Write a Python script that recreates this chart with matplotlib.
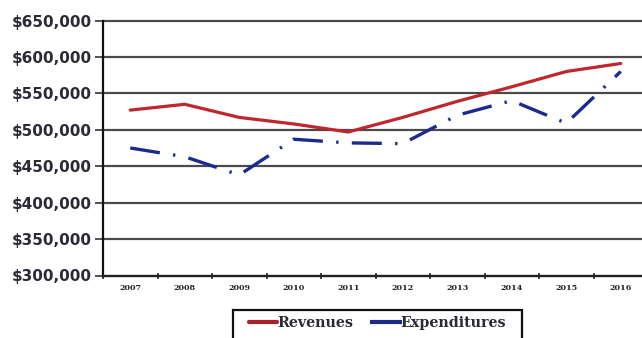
import matplotlib
matplotlib.use("Agg")
import matplotlib.pyplot as plt
from matplotlib.ticker import FuncFormatter, FixedLocator
from matplotlib.patches import Rectangle
import numpy as np

years = ["2007", "2008", "2009", "2010", "2011", "2012", "2013", "2014", "2015", "2016"]
revenues = [527000, 535000, 517000, 508000, 497000, 517000, 539000, 559000, 580000, 591000]
expenditures = [475000, 463000, 438000, 487000, 482000, 481000, 520000, 540000, 509000, 580000]

W, H = 642, 338
fig = plt.figure(figsize=(W / 100, H / 100), dpi=100)
fig.patch.set_facecolor("white")
ax = fig.add_axes([103 / W, (H - 275.5) / H, 545 / W, 255 / H])

x = np.arange(len(years))

# horizontal grid at every 50,000
for v in range(300000, 650001, 50000):
    ax.axhline(v, color="#4a4a4a", lw=1.6, zorder=1, clip_on=False)

ax.plot(x, revenues, color="#c0262d", lw=2.3, solid_capstyle="round",
        label="Revenues", zorder=3)
ax.plot(x, expenditures, color="#1c2a8e", lw=2.4, dashes=(9, 4, 0.7, 4),
        label="Expenditures", zorder=3)

ax.set_xlim(-0.5, len(years) - 0.5)
ax.set_ylim(300000, 650000)

ax.set_yticks(range(300000, 650001, 50000))
ax.yaxis.set_major_formatter(FuncFormatter(lambda v, p: "\\$" + f"{int(v):,}"))
ax.tick_params(axis="y", length=6, width=1.2, color="#333333", pad=2)
for lab in ax.get_yticklabels():
    lab.set_fontfamily("DejaVu Sans")
    lab.set_fontweight("bold")
    lab.set_fontsize(11)
    lab.set_color("#2b2b35")

ax.set_xticks(x)
ax.set_xticklabels(years, family="DejaVu Serif", fontweight="bold",
                   fontsize=5.8, color="#222222")
ax.xaxis.set_minor_locator(FixedLocator(np.arange(-0.5, len(years), 1.0)))
ax.tick_params(axis="x", which="major", length=0, pad=6)
ax.tick_params(axis="x", which="minor", length=4, width=1.2,
               direction="inout", color="#222222")

for side in ("top", "right"):
    ax.spines[side].set_visible(False)
ax.spines["left"].set_color("#111111")
ax.spines["left"].set_linewidth(1.6)
ax.spines["bottom"].set_color("#222222")
ax.spines["bottom"].set_linewidth(1.6)

# legend box runs past the lower edge of the figure
fig.patches.append(Rectangle((233 / W, -20 / H), 289 / W, (H - 310 + 20) / H,
                             transform=fig.transFigure, fill=False,
                             edgecolor="#111111", lw=1.6))

leg = fig.legend(loc="upper left", bbox_to_anchor=(249 / W, 1 - 316 / H),
                 ncol=2, frameon=False, handlelength=1.95,
                 handletextpad=0.05, columnspacing=1.3, borderpad=0.0,
                 borderaxespad=0.0,
                 prop={"family": "DejaVu Serif", "weight": "bold", "size": 10.3})
for t in leg.get_texts():
    t.set_color("#2b2b35")
for h, c in zip(leg.get_lines(), ["#a8202a", "#1c2a8e"]):
    h.set_linestyle("-")
    h.set_linewidth(3)
    h.set_color(c)

fig.savefig("out.png", dpi=100, facecolor="white")
